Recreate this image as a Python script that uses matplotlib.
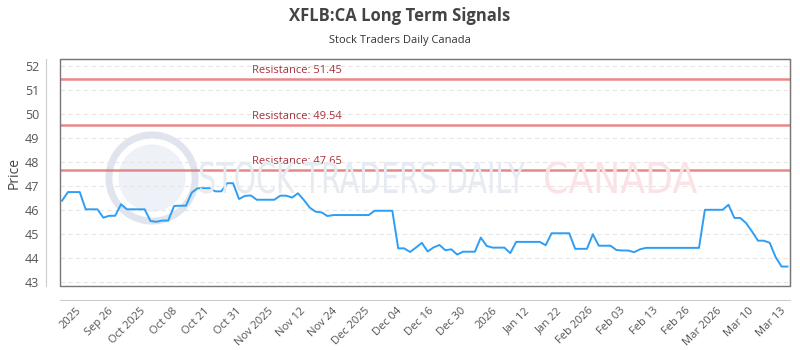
import numpy as np
import matplotlib
matplotlib.use("Agg")
import matplotlib.pyplot as plt
from matplotlib.patches import Rectangle, Ellipse, PathPatch
from matplotlib.textpath import TextPath
from matplotlib.font_manager import FontProperties
from matplotlib.transforms import Affine2D

plt.rcParams["font.family"] = ["Open Sans", "DejaVu Sans"]

# price series (one value per trading day)
prices = [
    46.38, 46.74, 46.74, 46.74, 46.02, 46.02, 46.02, 45.67, 45.75, 45.75,
    46.23, 46.02, 46.02, 46.02, 46.02, 45.53, 45.50, 45.55, 45.55, 46.16,
    46.17, 46.17, 46.72, 46.90, 46.90, 46.90, 46.77, 46.77, 47.11, 47.11,
    46.45, 46.58, 46.60, 46.42, 46.42, 46.42, 46.42, 46.59, 46.59, 46.51,
    46.69, 46.41, 46.09, 45.92, 45.89, 45.74, 45.78, 45.78, 45.78, 45.78,
    45.78, 45.78, 45.78, 45.96, 45.96, 45.96, 45.96, 44.39, 44.39, 44.24,
    44.42, 44.62, 44.26, 44.43, 44.53, 44.31, 44.35, 44.13, 44.25, 44.25,
    44.25, 44.84, 44.49, 44.42, 44.42, 44.42, 44.19, 44.66, 44.66, 44.66,
    44.66, 44.66, 44.52, 45.02, 45.02, 45.02, 45.02, 44.37, 44.37, 44.37,
    44.98, 44.50, 44.50, 44.50, 44.32, 44.30, 44.30, 44.23, 44.35, 44.41,
    44.41, 44.41, 44.41, 44.41, 44.41, 44.41, 44.41, 44.41, 44.41, 46.00,
    46.00, 46.00, 46.00, 46.21, 45.66, 45.66, 45.44, 45.09, 44.71, 44.71,
    44.62, 44.02, 43.63, 43.63,
]

tick_labels = [
    "2025", "Sep 26", "Oct 2025", "Oct 08", "Oct 21", "Oct 31", "Nov 2025",
    "Nov 12", "Nov 24", "Dec 2025", "Dec 04", "Dec 16", "Dec 30", "2026",
    "Jan 12", "Jan 22", "Feb 2026", "Feb 03", "Feb 13", "Feb 26",
    "Mar 2026", "Mar 10", "Mar 13",
]

resistance = [51.45, 49.54, 47.65]

x = np.arange(len(prices))

fig = plt.figure(figsize=(8, 3.5), dpi=100)
ax = fig.add_axes([0.075, 0.183, 0.913, 0.648])

# axis borders of the outer scale, pushed out from the plot box
for side in ("left", "bottom"):
    ax.spines[side].set_position(("outward", 10))
    ax.spines[side].set_color("#cccccc")
for side in ("top", "right"):
    ax.spines[side].set_color("#777777")
ax.add_patch(Rectangle((0, 0), 1, 1, transform=ax.transAxes, fill=False,
                       ec="#777777", lw=1, zorder=5, clip_on=False))


def squeezed_text(s, x0, x1, ybase, cap, color):
    # text stretched to a box in pixel coordinates (narrow watermark font)
    tp = TextPath((0, 0), s, size=1, prop=FontProperties(family="DejaVu Sans"))
    ext = tp.get_extents()
    sx = (x1 - x0) / ext.width
    sy = cap / 0.73
    tr = Affine2D().translate(-ext.x0, 0).scale(sx, sy).translate(x0, 350 - ybase)
    fig.patches.append(PathPatch(tp, transform=tr, fc=color, ec="none",
                                 zorder=0.5, figure=fig))


# faded watermark
ax.add_patch(Ellipse((0.126, 0.476), 0.118, 0.38, transform=ax.transAxes,
                     fill=False, ec="#dfe4ee", lw=5, zorder=0.4))
ax.add_patch(Ellipse((0.126, 0.476), 0.092, 0.296, transform=ax.transAxes,
                     fc="#eef1f7", ec="none", zorder=0.4))
squeezed_text("STOCK TRADERS DAILY", 200, 525, 193, 31, "#e6eaf1")
squeezed_text("CANADA", 545, 697, 193, 31, "#fbe3e5")

ax.plot(x, prices, color="#2e9ef5", lw=1.4, zorder=3)

for r in resistance:
    ax.axhline(r, color="#e57373", lw=1.8, alpha=0.85, zorder=2)
    ax.text(32.2, r + 0.12, f"Resistance: {r:.2f}", color="#a8323a",
            fontsize=8, ha="left", va="bottom", zorder=4)

ax.set_xlim(-0.35, 123.5)
ax.set_ylim(42.82, 52.29)
ax.set_yticks(range(43, 53))
ax.grid(axis="y", color="#e6e6e6", ls=(0, (4, 3)), lw=0.8)
ax.set_axisbelow(True)

ax.set_xticks(np.linspace(2.3, 121.8, len(tick_labels)))
ax.set_xticklabels(tick_labels, rotation=45, ha="right", rotation_mode="anchor")
ax.tick_params(axis="x", length=0, pad=4, labelsize=8, colors="#555555")
ax.tick_params(axis="y", length=0, pad=5, labelsize=9, colors="#555555")

ax.set_ylabel("Price", fontsize=10, color="#444444", labelpad=2)

fig.text(0.5, 0.955, "XFLB:CA Long Term Signals", ha="center", va="center",
         fontsize=12, fontweight="bold", color="#444444")
fig.text(0.5, 0.885, "Stock Traders Daily Canada", ha="center", va="center",
         fontsize=8, color="#333333")

fig.savefig("out.png", dpi=100)
